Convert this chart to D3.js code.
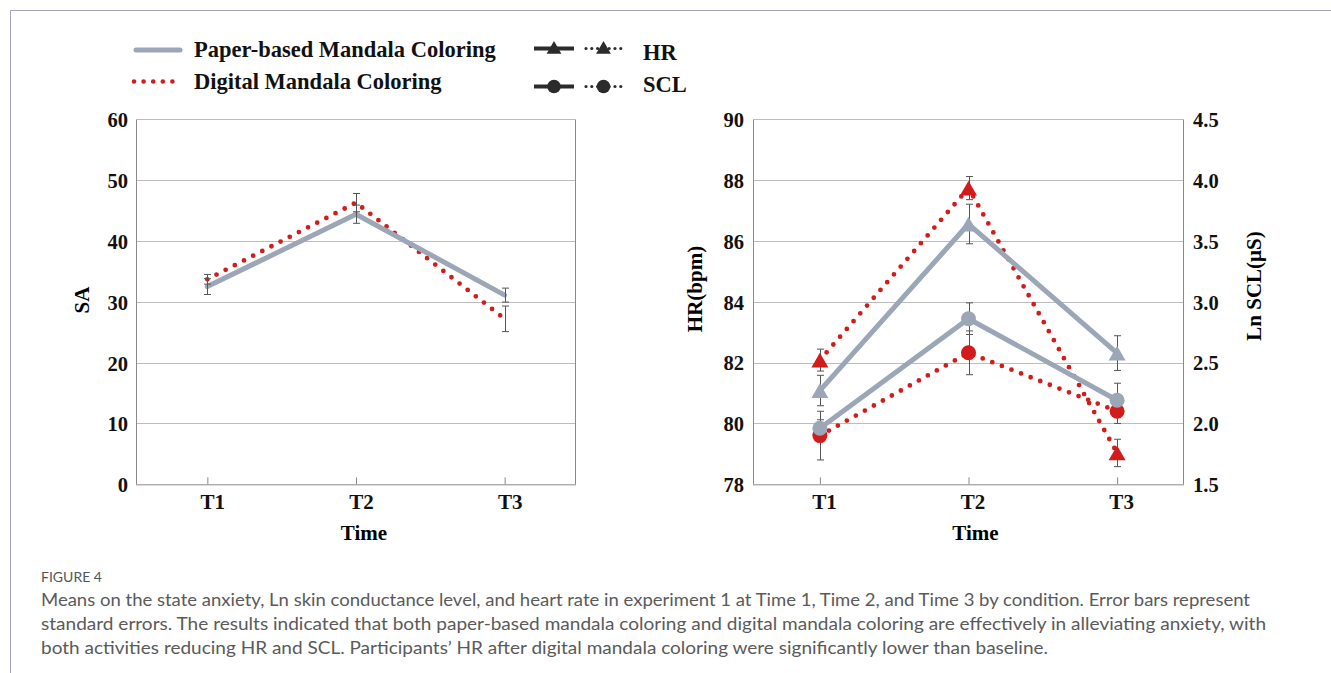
<!DOCTYPE html>
<html>
<head>
<meta charset="utf-8">
<script src="https://cdn.jsdelivr.net/npm/d3@7"></script>
<style>
  html, body { margin: 0; padding: 0; background: #fff; }
  svg { display: block; }
</style>
</head>
<body>
<script>
// ---------- DATA ----------
const times = ["T1", "T2", "T3"];

// State anxiety (left panel)
const saPaper = [32.5, 44.4, 31.1];
const saPaperSE = [1.3, 1.5, 1.15];
const saDigital = [33.7, 46.3, 27.2];
const saDigitalSE = [0.8, 1.5, 2.1];

// Heart rate (right panel, left axis)
const hrPaper = [81.08, 86.55, 82.31];
const hrPaperSE = [0.5, 0.65, 0.57];
const hrDigital = [82.08, 87.73, 79.03];
const hrDigitalSE = [0.36, 0.38, 0.45];

// Ln SCL (right panel, right axis)
const sclPaper = [1.96, 2.86, 2.19];
const sclPaperSE = [0.07, 0.13, 0.14];
const sclDigital = [1.90, 2.58, 2.10];
const sclDigitalSE = [0.2, 0.18, 0.1];

const saTicks = [0, 10, 20, 30, 40, 50, 60];
const hrTicks = [78, 80, 82, 84, 86, 88, 90];
const sclTicks = [1.5, 2.0, 2.5, 3.0, 3.5, 4.0, 4.5];

const legendConditions = ["Paper-based Mandala Coloring", "Digital Mandala Coloring"];
const legendMeasures = ["HR", "SCL"];

const captionTitle = "FIGURE 4";
const captionLines = [
  "Means on the state anxiety, Ln skin conductance level, and heart rate in experiment 1 at Time 1, Time 2, and Time 3 by condition. Error bars represent",
  "standard errors. The results indicated that both paper-based mandala coloring and digital mandala coloring are effectively in alleviating anxiety, with",
  "both activities reducing HR and SCL. Participants’ HR after digital mandala coloring were significantly lower than baseline."
];

// ---------- STYLE ----------
const W = 1331, H = 673;
const GRAY = "#9ba6b6", RED = "#d21c1c", DARK = "#2b2b2b";
const SERIF = "'Liberation Serif','Times New Roman',serif";
const gridColor = "#bdbdbd", axisColor = "#8a8a8a", errColor = "#555";

const svg = d3.select("body").append("svg").attr("width", W).attr("height", H);
svg.append("rect").attr("width", W).attr("height", H).attr("fill", "#fff");

// frame
svg.append("line").attr("x1", 10.5).attr("x2", W).attr("y1", 10.5).attr("y2", 10.5).attr("stroke", "#a3a3b3").attr("stroke-width", 1);
svg.append("line").attr("x1", 10.5).attr("x2", 10.5).attr("y1", 10.5).attr("y2", H).attr("stroke", "#a3a3b3").attr("stroke-width", 1);

const zip = (v, se) => times.map((t, i) => ({ t, v: v[i], se: se[i] }));

function drawFrame(g, x0, x1, y0, y1) {
  g.append("line").attr("x1", x0).attr("x2", x1).attr("y1", y0).attr("y2", y0).attr("stroke", gridColor);
  g.append("line").attr("x1", x0).attr("x2", x0).attr("y1", y0).attr("y2", y1).attr("stroke", axisColor);
  g.append("line").attr("x1", x1).attr("x2", x1).attr("y1", y0).attr("y2", y1).attr("stroke", axisColor);
}

function styleAxisText(sel, size) {
  sel.selectAll("text").attr("font-family", SERIF).attr("font-weight", "bold")
    .attr("font-size", size).attr("fill", "#111");
}

function dotted(path, w) {
  return path.attr("stroke-dasharray", "0 10.3").attr("stroke-linecap", "round").attr("stroke-width", w);
}

function errorBars(g, x, y, data) {
  const eb = g.append("g").attr("stroke", errColor).attr("stroke-width", 1);
  data.forEach(d => {
    const cx = Math.round(x(d.t)) + 0.5;
    eb.append("line").attr("x1", cx).attr("x2", cx).attr("y1", y(d.v - d.se)).attr("y2", y(d.v + d.se));
    [d.v - d.se, d.v + d.se].forEach(val => {
      eb.append("line").attr("x1", cx - 3.5).attr("x2", cx + 3.5).attr("y1", y(val)).attr("y2", y(val));
    });
  });
}

// ---------- LEFT PANEL ----------
{
  const x0 = 136, x1 = 576, y0 = 119.3, y1 = 484.3;
  const x = d3.scalePoint().domain(times).range([x0, x1]).padding(0.48);
  const y = d3.scaleLinear().domain([0, 60]).range([y1, y0]);
  const g = svg.append("g");

  g.append("g").selectAll("line").data(saTicks.filter(t => t > 0 && t < 60)).join("line")
    .attr("x1", x0).attr("x2", x1).attr("y1", d => Math.round(y(d)) + 0.5).attr("y2", d => Math.round(y(d)) + 0.5)
    .attr("stroke", gridColor);
  drawFrame(g, x0 + 0.5, x1 - 0.5, Math.round(y0) + 0.5, y1);

  const ya = g.append("g").attr("transform", `translate(${x0},0)`)
    .call(d3.axisLeft(y).tickValues(saTicks).tickSize(0).tickPadding(8).tickFormat(d3.format("d")));
  ya.select(".domain").remove();
  styleAxisText(ya, 20.5);
  ya.selectAll("text").attr("dy", "0.36em");

  const xa = g.append("g").attr("transform", `translate(0,${y1})`)
    .call(d3.axisBottom(x).tickSize(-7).tickPadding(10));
  xa.select(".domain").attr("stroke", axisColor).attr("d", `M${x0},0.5H${x1}`);
  xa.selectAll(".tick line").attr("stroke", axisColor);
  styleAxisText(xa, 21);
  xa.selectAll("text").attr("dx", 5);

  g.append("text").attr("transform", `translate(82,300) rotate(-90)`).attr("text-anchor", "middle")
    .attr("dominant-baseline", "central").attr("font-family", SERIF).attr("font-weight", "bold")
    .attr("font-size", 21).text("SA");
  g.append("text").attr("x", x("T2") + 8).attr("y", 540).attr("text-anchor", "middle")
    .attr("font-family", SERIF).attr("font-weight", "bold").attr("font-size", 21).text("Time");

  const line = d3.line().x(d => x(d.t)).y(d => y(d.v));
  const dig = zip(saDigital, saDigitalSE), pap = zip(saPaper, saPaperSE);
  dotted(g.append("path").datum(dig).attr("d", line).attr("fill", "none").attr("stroke", RED), 4.8);
  g.append("path").datum(pap).attr("d", line).attr("fill", "none").attr("stroke", GRAY)
    .attr("stroke-width", 5).attr("stroke-linejoin", "round").attr("stroke-linecap", "round");
  errorBars(g, x, y, dig);
  errorBars(g, x, y, pap);
}

// ---------- RIGHT PANEL ----------
{
  const x0 = 753, x1 = 1184, y0 = 119, y1 = 484.3;
  const x = d3.scalePoint().domain(times).range([x0, x1]).padding(0.45);
  const yH = d3.scaleLinear().domain([78, 90]).range([y1, y0]);
  const yS = d3.scaleLinear().domain([1.5, 4.5]).range([y1, y0]);
  const g = svg.append("g");

  g.append("g").selectAll("line").data(hrTicks.filter(t => t > 78 && t < 90)).join("line")
    .attr("x1", x0).attr("x2", x1).attr("y1", d => Math.round(yH(d)) + 0.5).attr("y2", d => Math.round(yH(d)) + 0.5)
    .attr("stroke", gridColor);
  drawFrame(g, x0 + 0.5, x1 - 0.5, Math.round(y0) + 0.5, y1);

  const ya = g.append("g").attr("transform", `translate(${x0},0)`)
    .call(d3.axisLeft(yH).tickValues(hrTicks).tickSize(0).tickPadding(9).tickFormat(d3.format("d")));
  ya.select(".domain").remove();
  styleAxisText(ya, 20.5);
  ya.selectAll("text").attr("dy", "0.36em");

  const yr = g.append("g").attr("transform", `translate(${x1},0)`)
    .call(d3.axisRight(yS).tickValues(sclTicks).tickSize(0).tickPadding(9).tickFormat(d3.format(".1f")));
  yr.select(".domain").remove();
  styleAxisText(yr, 20.5);
  yr.selectAll("text").attr("dy", "0.36em");

  const xa = g.append("g").attr("transform", `translate(0,${y1})`)
    .call(d3.axisBottom(x).tickSize(-7).tickPadding(10));
  xa.select(".domain").attr("stroke", axisColor).attr("d", `M${x0},0.5H${x1}`);
  xa.selectAll(".tick line").attr("stroke", axisColor);
  styleAxisText(xa, 21);
  xa.selectAll("text").attr("dx", 4);

  g.append("text").attr("transform", `translate(695,289) rotate(-90)`).attr("text-anchor", "middle")
    .attr("dominant-baseline", "central").attr("font-family", SERIF).attr("font-weight", "bold")
    .attr("font-size", 21).text("HR(bpm)");
  g.append("text").attr("transform", `translate(1254,286) rotate(-90)`).attr("text-anchor", "middle")
    .attr("dominant-baseline", "central").attr("font-family", SERIF).attr("font-weight", "bold")
    .attr("font-size", 21).text("Ln SCL(μS)");
  g.append("text").attr("x", x("T2") + 7).attr("y", 540).attr("text-anchor", "middle")
    .attr("font-family", SERIF).attr("font-weight", "bold").attr("font-size", 21).text("Time");

  const lineH = d3.line().x(d => x(d.t)).y(d => yH(d.v));
  const lineS = d3.line().x(d => x(d.t)).y(d => yS(d.v));
  const hD = zip(hrDigital, hrDigitalSE), hP = zip(hrPaper, hrPaperSE);
  const sD = zip(sclDigital, sclDigitalSE), sP = zip(sclPaper, sclPaperSE);

  dotted(g.append("path").datum(sD).attr("d", lineS).attr("fill", "none").attr("stroke", RED), 4.8);
  dotted(g.append("path").datum(hD).attr("d", lineH).attr("fill", "none").attr("stroke", RED), 4.8);
  [[sP, lineS], [hP, lineH]].forEach(([d, l]) => {
    g.append("path").datum(d).attr("d", l).attr("fill", "none").attr("stroke", GRAY)
      .attr("stroke-width", 5).attr("stroke-linejoin", "round").attr("stroke-linecap", "round");
  });

  errorBars(g, x, yS, sD);
  errorBars(g, x, yH, hD);
  errorBars(g, x, yS, sP);
  errorBars(g, x, yH, hP);

  const triSize = 125;
  const triH = Math.sqrt(triSize * 4 / Math.sqrt(3)) * Math.sqrt(3) / 2;
  const tri = d3.symbol().type(d3.symbolTriangle).size(triSize);
  const drawTri = (data, fill) => g.append("g").selectAll("path").data(data).join("path")
    .attr("d", tri).attr("fill", fill)
    .attr("transform", d => `translate(${x(d.t)},${yH(d.v) + triH / 6})`);
  const drawCirc = (data, fill) => g.append("g").selectAll("circle").data(data).join("circle")
    .attr("cx", d => x(d.t)).attr("cy", d => yS(d.v)).attr("r", 7.5).attr("fill", fill);

  drawCirc(sD, RED);
  drawTri(hD, RED);
  drawCirc(sP, GRAY);
  drawTri(hP, GRAY);
}

// ---------- LEGEND ----------
{
  const g = svg.append("g");
  const txt = (x, y, s, size) => g.append("text").attr("x", x).attr("y", y).attr("font-family", SERIF)
    .attr("font-weight", "bold").attr("font-size", size).attr("fill", "#111").text(s);

  g.append("line").attr("x1", 136).attr("x2", 180).attr("y1", 50).attr("y2", 50)
    .attr("stroke", GRAY).attr("stroke-width", 5).attr("stroke-linecap", "round");
  txt(194, 57, legendConditions[0], 22.5);
  g.append("line").attr("x1", 134).attr("x2", 182).attr("y1", 81.5).attr("y2", 81.5)
    .attr("stroke", RED).attr("stroke-width", 4.6).attr("stroke-linecap", "round").attr("stroke-dasharray", "0 9.6");
  txt(194, 89, legendConditions[1], 22.5);

  const rows = [48.5, 86.5];
  rows.forEach((yy, i) => {
    g.append("line").attr("x1", 534).attr("x2", 574).attr("y1", yy).attr("y2", yy)
      .attr("stroke", DARK).attr("stroke-width", 4);
    g.append("line").attr("x1", 586).attr("x2", 621).attr("y1", yy).attr("y2", yy)
      .attr("stroke", DARK).attr("stroke-width", 3.2).attr("stroke-linecap", "round").attr("stroke-dasharray", "0 5.8");
    [554, 603.5].forEach(cx => {
      if (i === 0) {
        g.append("path").attr("d", d3.symbol().type(d3.symbolTriangle).size(95)())
          .attr("transform", `translate(${cx},${yy + 1})`).attr("fill", DARK);
      } else {
        g.append("circle").attr("cx", cx).attr("cy", yy).attr("r", 6.8).attr("fill", DARK);
      }
    });
    txt(643, i === 0 ? 59.5 : 92, legendMeasures[i], 22.5);
  });
}

// ---------- CAPTION ----------
{
  const g = svg.append("g");
  g.append("text").attr("x", 41).attr("y", 582).attr("font-family", "Lato, 'Open Sans', sans-serif")
    .attr("font-size", 13).attr("fill", "#555").attr("textLength", 61).attr("lengthAdjust", "spacingAndGlyphs")
    .text(captionTitle);
  const widths = [1209, 1225, 1007];
  const base = [606, 630, 654];
  captionLines.forEach((s, i) => {
    g.append("text").attr("x", 41).attr("y", base[i]).attr("font-family", "Lato, 'Open Sans', sans-serif")
      .attr("font-size", 17).attr("fill", "#5a5a5a").attr("textLength", widths[i])
      .attr("lengthAdjust", "spacingAndGlyphs").text(s);
  });
}
</script>
</body>
</html>
